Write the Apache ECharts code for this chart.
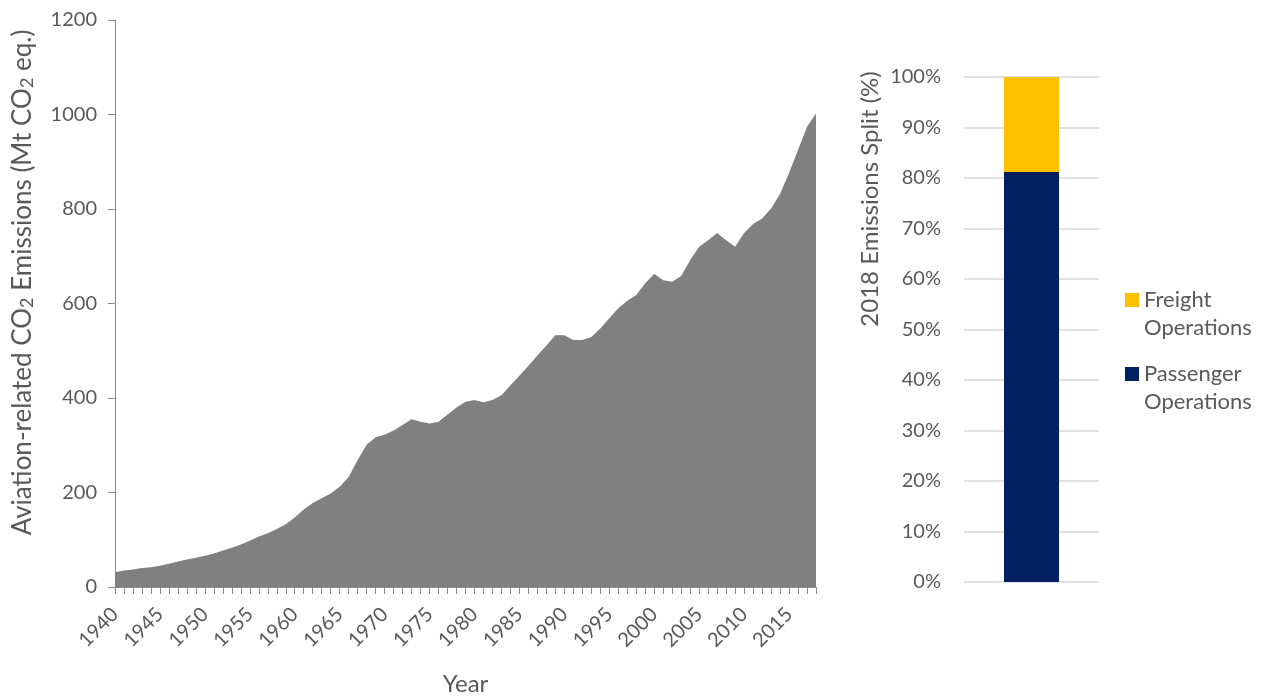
<!DOCTYPE html>
<html><head><meta charset="utf-8">
<script src="https://cdn.jsdelivr.net/npm/echarts@6/dist/echarts.min.js"></script>
<style>html,body{margin:0;padding:0;background:#fff}#c{width:1266px;height:698px}</style>
</head><body><div id="c"></div>
<script>
const years = ['1940','1941','1942','1943','1944','1945','1946','1947','1948','1949',
  '1950','1951','1952','1953','1954','1955','1956','1957','1958','1959',
  '1960','1961','1962','1963','1964','1965','1966','1967','1968','1969',
  '1970','1971','1972','1973','1974','1975','1976','1977','1978','1979',
  '1980','1981','1982','1983','1984','1985','1986','1987','1988','1989',
  '1990','1991','1992','1993','1994','1995','1996','1997','1998','1999',
  '2000','2001','2002','2003','2004','2005','2006','2007','2008','2009',
  '2010','2011','2012','2013','2014','2015','2016','2017','2018'];
const emissions = [31,35,37,40,42,45,49,54,58,62,
  66,71,77,83,90,98,107,114,123,133,
  147,164,178,188,198,212,233,269,301,317,
  322,331,343,355,350,346,350,365,380,392,
  396,391,396,406,427,447,468,490,511,533,
  533,523,523,529,547,569,590,606,618,643,
  663,649,646,658,692,720,734,749,734,720,
  749,768,780,801,832,876,925,974,1002];
const splitCategories = ['2018'];
const passengerShare = [81.2];
const freightShare = [18.8];
const seriesNames = ['Passenger Operations', 'Freight Operations'];

const FONT = 'Lato';
const TXT = '#595959';
const chart = echarts.init(document.getElementById('c'));
chart.setOption({
  animation: false,
  textStyle: { fontFamily: FONT, color: TXT },
  grid: [
    { left: 115, top: 20, width: 701, height: 567, containLabel: false, outerBoundsMode: 'none' },
    { left: 964, top: 77, width: 135, height: 505, containLabel: false, outerBoundsMode: 'none' }
  ],
  xAxis: [
    {
      gridIndex: 0, type: 'category', data: years, boundaryGap: false,
      name: 'Year', nameLocation: 'middle', nameGap: 85,
      nameTextStyle: { fontFamily: FONT, fontSize: 24, color: TXT },
      axisLine: { lineStyle: { color: '#898989', width: 1 } },
      axisTick: { interval: 0, length: 7, lineStyle: { color: '#898989' } },
      axisLabel: { interval: 4, rotate: 45, margin: 24, fontFamily: FONT, fontSize: 20, color: TXT },
      splitLine: { show: false }
    },
    {
      gridIndex: 1, type: 'category', data: splitCategories,
      axisLine: { show: false }, axisTick: { show: false }, axisLabel: { show: false }
    }
  ],
  yAxis: [
    {
      gridIndex: 0, type: 'value', min: 0, max: 1200, interval: 200,
      name: 'Aviation-related CO{s|2} Emissions (Mt CO{s|2} eq.)',
      nameLocation: 'middle', nameGap: 79,
      nameTextStyle: {
        fontFamily: FONT, fontSize: 26, color: TXT, padding: [0, 0, 0, 42],
        rich: { s: { fontFamily: FONT, fontSize: 18, color: TXT, verticalAlign: 'bottom', padding: [8, 0, 0, 0] } }
      },
      axisLine: { show: true, lineStyle: { color: '#898989', width: 1 } },
      axisTick: { show: true, length: 7, lineStyle: { color: '#898989' } },
      axisLabel: { margin: 18, formatter: v => String(v), fontFamily: FONT, fontSize: 20, color: TXT },
      splitLine: { show: false }
    },
    {
      gridIndex: 1, type: 'value', min: 0, max: 100, interval: 10,
      name: '2018 Emissions Split (%)',
      nameLocation: 'middle', nameGap: 82,
      nameTextStyle: { fontFamily: FONT, fontSize: 24, color: TXT, padding: [0, 0, 0, 261] },
      axisLine: { show: false }, axisTick: { show: false },
      axisLabel: { margin: 23, formatter: '{value}%', fontFamily: FONT, fontSize: 20, color: TXT },
      splitLine: { lineStyle: { color: '#d9d9d9', width: 1.5 } }
    }
  ],
  legend: {
    left: 1125, top: 258, orient: 'vertical', padding: 0, itemGap: -10,
    itemWidth: 14, itemHeight: 14, icon: 'rect',
    data: [seriesNames[1], seriesNames[0]],
    formatter: n => '\n' + n.replace(' ', '\n'),
    textStyle: { fontFamily: FONT, fontSize: 22, color: TXT, lineHeight: 28 }
  },
  series: [
    {
      name: 'Emissions', type: 'line', xAxisIndex: 0, yAxisIndex: 0, data: emissions,
      symbol: 'none', lineStyle: { width: 0 }, areaStyle: { color: '#808080', opacity: 1 }
    },
    {
      name: seriesNames[0], type: 'bar', stack: 'split', xAxisIndex: 1, yAxisIndex: 1,
      data: passengerShare, barWidth: 55, itemStyle: { color: '#002060' }
    },
    {
      name: seriesNames[1], type: 'bar', stack: 'split', xAxisIndex: 1, yAxisIndex: 1,
      data: freightShare, barWidth: 55, itemStyle: { color: '#FFC000' }
    }
  ]
});
</script></body></html>
